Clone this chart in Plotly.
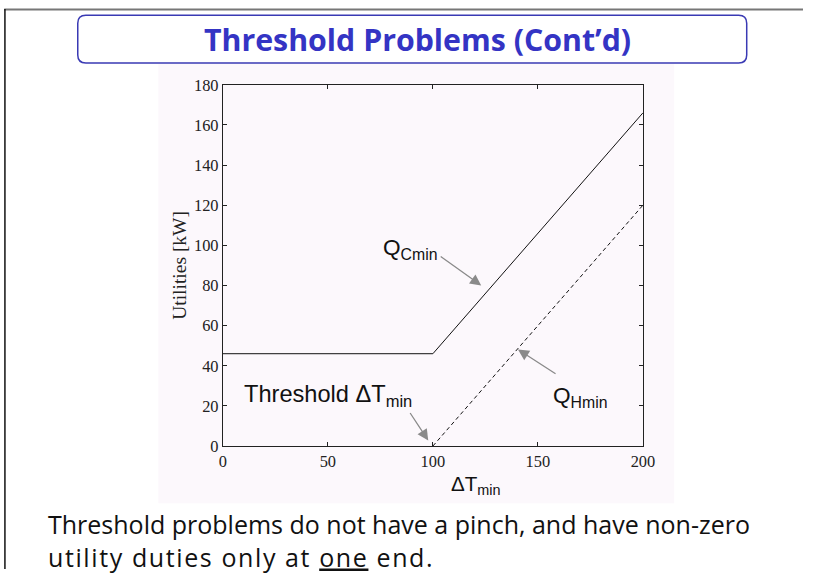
import plotly.graph_objects as go

# Minimum utility targets versus the minimum approach temperature
dt_cold = [0, 100, 200]
q_cmin = [46, 46, 166]
dt_hot = [100, 200]
q_hmin = [0, 120]

x_ticks = [0, 50, 100, 150, 200]
y_ticks = [0, 20, 40, 60, 80, 100, 120, 140, 160, 180]

W, H = 815, 579
# slide positions below are given in slide pixels; they are placed on the
# figure paper with a small zoom and shift
ZOOM = 595 / 579
SHIFT = 8


def fx(x):
    return (x * ZOOM - SHIFT) / W


def fy(y):
    return 1 - (y * ZOOM - SHIFT) / H


def fs(size):
    return round(size * ZOOM, 1)


fig = go.Figure()
fig.add_trace(go.Scatter(x=dt_cold, y=q_cmin, mode="lines",
                         line=dict(color="#111111", width=1), hoverinfo="skip"))
fig.add_trace(go.Scatter(x=dt_hot, y=q_hmin, mode="lines",
                         line=dict(color="#111111", width=1, dash="4px,3px"),
                         hoverinfo="skip"))

serif = "Liberation Serif, Times New Roman, serif"
tick_font = dict(family=serif, size=fs(16), color="#222")
axis_common = dict(showline=True, linecolor="#222", linewidth=1, mirror="allticks",
                   ticks="inside", ticklen=4, tickcolor="#222", showgrid=False,
                   zeroline=False, tickfont=tick_font)

fig.update_layout(
    width=W, height=H,
    margin=dict(l=0, r=0, t=0, b=0),
    paper_bgcolor="white",
    plot_bgcolor="rgba(0,0,0,0)",
    showlegend=False,
    xaxis=dict(domain=[fx(225), fx(642)], range=[0, 200], tickvals=x_ticks, **axis_common),
    yaxis=dict(domain=[fy(447.5), fy(84)], range=[0, 180], tickvals=y_ticks,
               title=dict(text="Utilities [kW]", standoff=2,
                          font=dict(family=serif, size=fs(19), color="#222")),
               **axis_common),
)

# slide frame, figure backdrop and the rounded title box
title_path = (
    f"M {fx(89)},{fy(14)} L {fx(737)},{fy(14)} Q {fx(745)},{fy(14)} {fx(745)},{fy(22)} "
    f"L {fx(745)},{fy(54)} Q {fx(745)},{fy(62)} {fx(737)},{fy(62)} "
    f"L {fx(89)},{fy(62)} Q {fx(81)},{fy(62)} {fx(81)},{fy(54)} "
    f"L {fx(81)},{fy(22)} Q {fx(81)},{fy(14)} {fx(89)},{fy(14)} Z"
)
fig.update_layout(shapes=[
    dict(type="rect", xref="paper", yref="paper", x0=fx(161), x1=fx(673),
         y0=fy(505), y1=fy(63), fillcolor="#fcf8fc", line=dict(width=0), layer="below"),
    dict(type="line", xref="paper", yref="paper", x0=fx(8), x1=1, y0=1 - 0.6 / H, y1=1 - 0.6 / H,
         line=dict(color="#777", width=2)),
    dict(type="line", xref="paper", yref="paper", x0=fx(8.7), x1=fx(8.7), y0=1, y1=0,
         line=dict(color="#111", width=1.5)),
    dict(type="path", xref="paper", yref="paper", path=title_path,
         line=dict(color="#3a3ab4", width=1.5), fillcolor="white"),
])

label_font = dict(family="Liberation Sans, Arial, sans-serif", size=fs(22), color="#111")
arrow = dict(showarrow=True, arrowhead=2, arrowsize=1.7, arrowwidth=1.3,
             arrowcolor="#8a8a8a", axref="x", ayref="y", text="")

fig.add_annotation(x=123, y=80, ax=103, ay=95, **arrow)
fig.add_annotation(x=97.8, y=2.8, ax=88.7, ay=17.2, **arrow)
fig.add_annotation(x=140.5, y=48.1, ax=159.1, ay=35.5, **arrow)

fig.add_annotation(x=89, y=98, text="Q<sub>Cmin</sub>", showarrow=False, font=label_font,
                   xanchor="center", yanchor="middle")
fig.add_annotation(x=50, y=25, text="Threshold ΔT<sub>min</sub>", showarrow=False,
                   font=dict(label_font, size=fs(23)), xanchor="center", yanchor="middle")
fig.add_annotation(x=170, y=24.5, text="Q<sub>Hmin</sub>", showarrow=False, font=label_font,
                   xanchor="center", yanchor="middle")

fig.add_annotation(xref="paper", yref="paper", x=fx(476), y=fy(487),
                   xanchor="center", yanchor="middle",
                   text="ΔT<sub>min</sub>", showarrow=False,
                   font=dict(family="Liberation Sans, Arial, sans-serif", size=fs(20),
                             color="#111"))

fig.add_annotation(xref="paper", yref="paper", x=fx(418), y=fy(38),
                   xanchor="center", yanchor="middle",
                   text="<b>Threshold Problems (Cont’d)</b>", showarrow=False,
                   font=dict(family="Open Sans, sans-serif", size=fs(29.5), color="#3434c4"))

fig.add_annotation(xref="paper", yref="paper", x=fx(49), y=fy(543),
                   xanchor="left", yanchor="middle", align="left", showarrow=False,
                   text=("Threshold problems do not have a pinch, and have non-zero<br>"
                         "<span style='letter-spacing:1.6px'>utility duties only at "
                         "<span style='text-decoration:underline'>one</span> end.</span>"),
                   font=dict(family="Open Sans, sans-serif", size=fs(24.3), color="#111"))

fig.write_html("out.html")
